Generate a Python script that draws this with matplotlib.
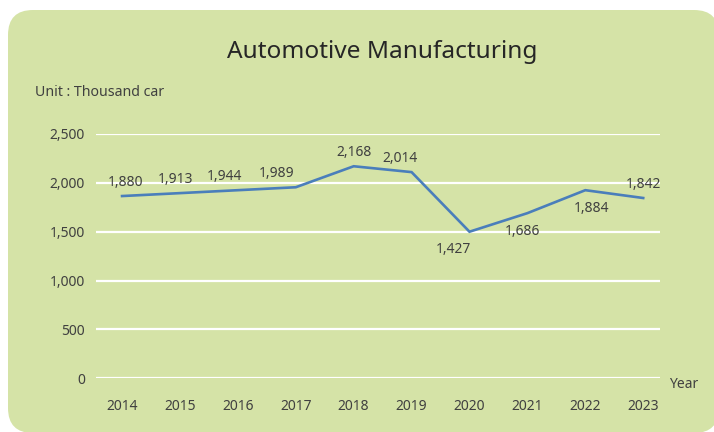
import matplotlib
matplotlib.use("Agg")
import matplotlib.pyplot as plt
from matplotlib.patches import FancyBboxPatch

plt.rcParams['font.family'] = ['Noto Sans', 'DejaVu Sans']

# data
years = [2014, 2015, 2016, 2017, 2018, 2019, 2020, 2021, 2022, 2023]
line_values = [1865, 1895, 1925, 1955, 2170, 2110, 1500, 1690, 1925, 1845]
value_labels = ['1,880', '1,913', '1,944', '1,989', '2,168',
                '2,014', '1,427', '1,686', '1,884', '1,842']
label_side = ['above', 'above', 'above', 'above', 'above',
              'above', 'below', 'below', 'below', 'above']
label_dx = [3, -4, -13, -19, 0, -12, -16, -5, 6, 0]   # pixel nudges
y_ticks = [0, 500, 1000, 1500, 2000, 2500]

bg_green = '#d5e3a7'
line_blue = '#4a7ebb'
text_col = '#404040'

fig = plt.figure(figsize=(7.14, 4.32), dpi=100)
fig.patch.set_facecolor('white')

# rounded green panel (in inches), drawn behind the axes
# it runs a little past the right edge of the picture
r = 0.25
x0, y0, x1, y1 = 0.08, -0.01, 7.19, 4.22
panel = FancyBboxPatch((x0 + r, y0 + r), x1 - x0 - 2 * r, y1 - y0 - 2 * r,
                       boxstyle=f'round,pad={r},rounding_size={r}',
                       transform=fig.dpi_scale_trans,
                       facecolor=bg_green, edgecolor='none', zorder=-5)
fig.patches.append(panel)

ax = fig.add_axes([96 / 714, 53.7 / 432, 564 / 714, 244.3 / 432])
ax.set_zorder(2)
ax.set_facecolor('none')
for s in ax.spines.values():
    s.set_visible(False)

ax.set_ylim(0, 2500)
ax.set_xlim(2013.55, 2023.29)
ax.set_yticks(y_ticks)
ax.set_yticklabels([f'{v:,}' for v in y_ticks])
ax.set_xticks(years)
ax.set_xticklabels([str(y) for y in years])
ax.tick_params(axis='y', length=0, pad=8, labelsize=10, labelcolor=text_col)
ax.tick_params(axis='x', length=0, pad=15, labelsize=10, labelcolor=text_col)
ax.grid(axis='y', color='white', linewidth=1.6)
ax.set_axisbelow(True)

ax.plot(years, line_values, color=line_blue, linewidth=1.9, zorder=3,
        solid_joinstyle='miter')

for x, v, lab, side, dx in zip(years, line_values, value_labels, label_side, label_dx):
    dy = 10 if side == 'above' else -13
    ax.annotate(lab, (x, v), xytext=(dx * 0.72, dy), textcoords='offset points',
                ha='center', va='center', fontsize=10, color=text_col)

fig.text(382 / 714, 1 - 52 / 432, 'Automotive Manufacturing', ha='center',
         va='center', fontsize=17.6, color='#262626')
fig.text(35 / 714, 1 - 92 / 432, 'Unit : Thousand car', ha='left',
         va='center', fontsize=10.2, color=text_col)
fig.text(669 / 714, 1 - 384 / 432, 'Year', ha='left', va='center',
         fontsize=10, color=text_col)

fig.savefig('out.png', dpi=100, facecolor=fig.get_facecolor())
